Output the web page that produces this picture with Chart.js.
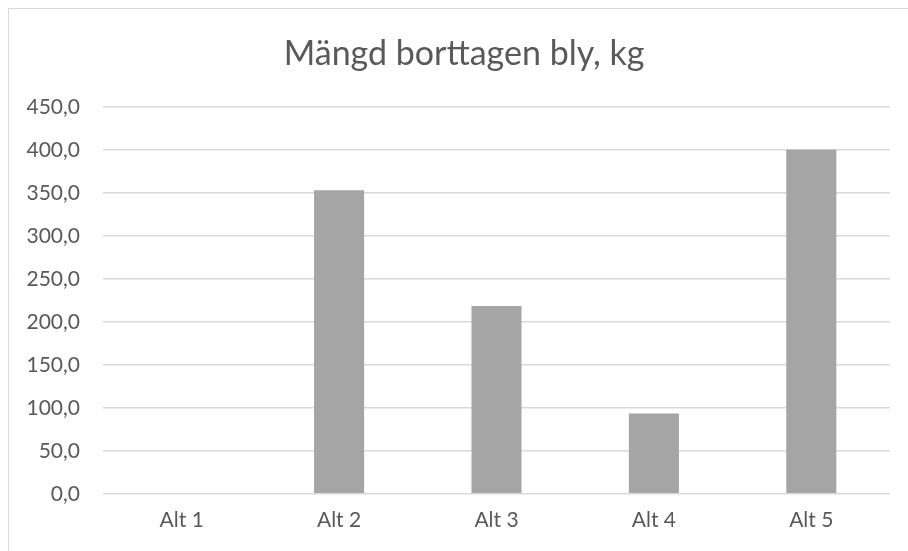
<!DOCTYPE html>
<html>
<head>
<meta charset="utf-8">
<script src="https://cdn.jsdelivr.net/npm/chart.js@4"></script>
<style>
  html, body { margin: 0; padding: 0; background: #fff; }
  #wrap { width: 908px; height: 551px; position: relative; }
</style>
</head>
<body>
<div id="wrap"><canvas id="chart" width="908" height="551"></canvas></div>
<script>
/* global Chart */
const categories = ['Alt 1', 'Alt 2', 'Alt 3', 'Alt 4', 'Alt 5'];
const leadRemoved = [0, 353, 218.5, 93.5, 400];
const titleText = 'Mängd borttagen bly, kg';

const textColor = '#595959';
const gridColor = '#D9D9D9';
const fontFamily = 'Lato, "Open Sans", sans-serif';

// thin frame round the chart, like the spreadsheet chart box
const frame = {
    id: 'frame',
    beforeDraw(chart) {
        const c = chart.ctx;
        c.save();
        c.strokeStyle = '#D9D9D9';
        c.lineWidth = 1;
        c.beginPath();
        c.moveTo(8.5, chart.height);
        c.lineTo(8.5, 8.5);
        c.lineTo(chart.width, 8.5);
        c.stroke();
        c.restore();
    },
    // the title sits a bit right of the canvas middle in the original
    afterLayout(chart) {
        if (chart.titleBlock) chart.titleBlock.left = 38;
    }
};

new Chart(document.getElementById('chart'), {
    type: 'bar',
    data: {
        labels: categories,
        datasets: [{
            data: leadRemoved,
            backgroundColor: '#A5A5A5',
            borderWidth: 0,
            categoryPercentage: 1,
            barPercentage: 0.318
        }]
    },
    options: {
        responsive: false,
        animation: false,
        layout: { padding: { left: 8, top: 22, right: 18, bottom: 12 } },
        plugins: {
            legend: { display: false },
            tooltip: { enabled: false },
            title: {
                display: true,
                text: titleText,
                color: textColor,
                font: { family: fontFamily, size: 34, weight: 'normal' },
                padding: { top: 12, bottom: 32 }
            }
        },
        scales: {
            x: {
                grid: { display: false },
                border: { display: false },
                ticks: {
                    color: textColor,
                    font: { family: fontFamily, size: 21 },
                    padding: 6
                }
            },
            y: {
                min: 0,
                max: 450,
                border: { display: false },
                grid: { color: gridColor, lineWidth: 1.5, drawTicks: false },
                afterFit(scale) { scale.width = 95; },
                ticks: {
                    stepSize: 50,
                    padding: 23,
                    color: textColor,
                    font: { family: fontFamily, size: 21 },
                    callback: (v) => v.toFixed(1).replace('.', ',')
                }
            }
        }
    },
    plugins: [frame]
});
</script>
</body>
</html>
